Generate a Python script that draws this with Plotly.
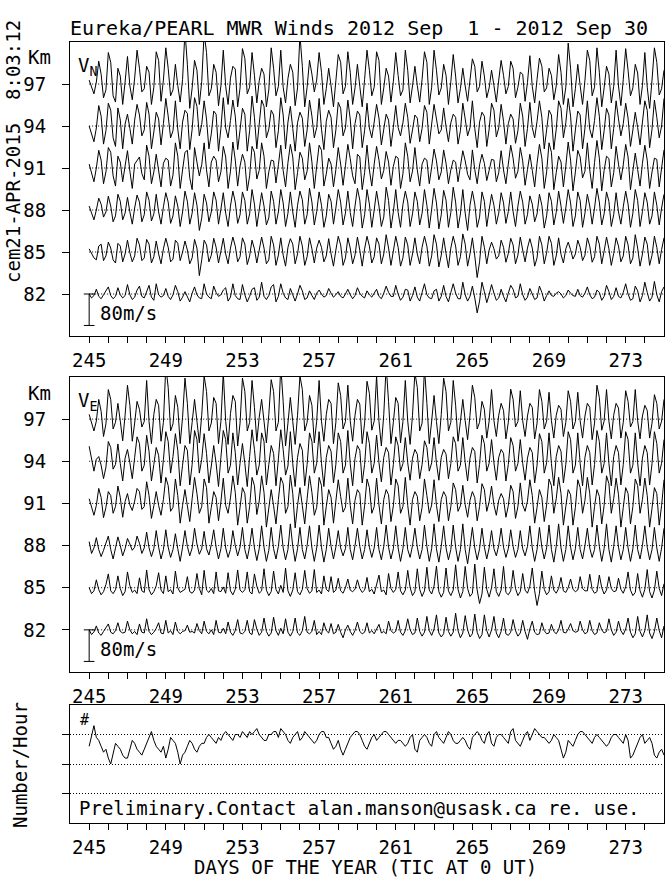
import numpy as np
import plotly.graph_objects as go

# ---------------- data (3-hourly samples, m/s) ----------------
HEIGHTS = [82, 85, 88, 91, 94, 97]
DAY_START = 245.0
STEP = 0.125
TICK_DAYS = list(range(245, 275))
LABEL_DAYS = [245, 249, 253, 257, 261, 265, 269, 273]
SCALE_MS = 80.0
MS_PER_KM = 35.6

VN_82 = [0,-10,-4,12,-6,-12,-2,8, 18,-4,-12,-6,16,-2,-10,-4, 24,-2,-14,-8,10,20,-6,-10,
         4,22,-8,-16,26,-2,-8,-4, 14,-6,-14,-2,22,6,-18,-8, 6,-8,-20,2,18,-2,-10,-12,
         26,0,-8,-12,20,4,-6,-2, 10,16,-18,-8,26,-4,-12,-14, 24,-2,-20,-6,12,16,-16,-8,
         30,-6,-14,-4,18,24,-20,-6, 26,2,-10,-14,14,-2,-18,0, 22,8,-14,-10,8,-4,-14,2,
         10,0,-8,-4,14,2,-8,-2, 6,-6,-10,0,12,-2,-12,-4, 16,2,-6,-10,8,-2,-8,2,
         12,-6,-12,2,20,4,-6,-6, 22,0,-16,-8,12,10,-18,-4, 18,-8,-18,4,26,-2,-10,-12,
         8,12,-18,-6,22,-6,-20,4, 26,2,-12,-12,30,-2,-18,-6, 20,-10,-48,-18,30,6,-22,-2,
         24,2,-16,-10,12,-6,-20,2, 22,12,-10,-6,26,-2,-16,-8, 14,0,-14,-10,20,4,-18,-4,
         8,-4,-6,2,6,0,-10,-4, 10,2,-4,-6,12,-4,-8,2, 18,-2,-12,-8,10,4,-16,-6,
         22,6,-14,-6,16,-6,-10,4, 26,0,-16,-12,20,8,-20,-4, 30,4,-18,-8,32,-2,-20,6, 18]
VN_85 = [8,-5,-15,-20,15,20,-22,-10, 25,10,-20,-28,22,15,-25,-5, 30,-2,-25,-10,35,18,-22,-15,
         32,20,-28,-12,28,-5,-30,8, 35,12,-25,-18,30,22,-22,0, 28,5,-30,-15,32,10,-60,-20,
         30,18,-25,-8,35,12,-28,2, 35,-5,-30,10,38,15,-25,-12, 36,20,-32,-10,30,8,-28,5,
         38,10,-30,-20,40,18,-34,-8, 36,-8,-36,12,34,20,-30,-5, 40,15,-34,-12,36,8,-28,10,
         30,12,-25,-10,34,-5,-36,5, 40,18,-34,-15,36,10,-30,-8, 38,5,-36,8,40,15,-28,-12,
         36,20,-30,-5,44,10,-34,2, 40,12,-36,-15,38,18,-34,-5, 36,-5,-30,12,40,15,-36,-10,
         44,20,-38,-8,36,-4,-40,10, 40,15,-34,-12,46,20,-36,-5, 36,-10,-65,-25,40,12,-30,5,
         25,8,-18,-10,30,12,-26,-4, 35,18,-30,-8,38,5,-25,10, 34,10,-36,-15,40,18,-30,-2,
         40,22,-34,-10,36,-6,-28,8, 25,6,-18,-5,30,12,-22,-8, 36,15,-26,-12,40,20,-30,2,
         38,8,-34,-4,36,15,-25,-10, 40,18,-30,-15,44,10,-36,-5, 38,20,-34,-8,40,12,-30,6, 36]
VN_88 = [10,-10,-25,0,30,15,-18,-5, 35,10,-30,-15,40,22,-25,-8, 32,-5,-36,5,38,20,-30,-12,
         46,25,-28,-10,40,-5,-36,8, 44,20,-34,-15,36,10,-42,-5, 48,22,-36,-8,44,12,-52,-20,
         40,18,-30,-5,46,25,-36,2, 44,-8,-42,10,48,20,-34,-12, 46,24,-36,-10,52,15,-42,0,
         44,10,-38,-20,48,22,-36,-5, 52,18,-42,-8,46,-5,-44,12, 48,26,-36,-12,55,20,-38,-4,
         46,12,-44,-15,40,22,-36,5, 52,20,-38,-8,48,-6,-42,10, 55,25,-46,-12,52,15,-44,0,
         48,10,-42,-18,58,24,-46,-5, 52,-6,-44,14,48,20,-42,-10, 46,22,-38,-8,52,12,-46,2,
         55,18,-48,-12,50,25,-44,-6, 58,20,-46,-10,52,-8,-52,12, 48,15,-44,-18,46,22,-42,0,
         40,12,-36,-8,44,18,-34,-4, 46,-4,-42,10,48,20,-36,-12, 36,15,-30,-10,40,12,-46,-15,
         44,22,-38,-6,48,10,-34,5, 52,18,-42,-15,46,24,-44,-8, 40,10,-36,5,55,20,-38,-10,
         46,22,-42,-12,44,-5,-36,8, 48,15,-44,-8,52,24,-42,-4, 44,20,-36,-15,46,12,-38,5, 40]
VN_91 = [10,-15,-35,0,45,20,-40,-10, 52,40,-20,-46,30,15,-35,5, 44,-8,-52,10,20,28,-14,-30,
         58,30,-40,-10,35,-5,-48,12, 25,20,-46,-18,64,30,-52,-5, 40,45,-25,-55,52,15,-20,8,
         64,-5,-48,15,30,20,-35,-10, 55,28,-52,-8,66,20,-46,5, 35,15,-58,-20,55,40,-28,-6,
         64,30,-52,-10,20,18,-38,8, 58,-6,-48,14,60,28,-55,-12, 40,25,-30,-8,64,15,-52,5,
         58,45,-46,-15,25,10,-48,-4, 52,10,-44,6,60,24,-20,-40, 35,28,-55,-12,58,-5,-46,10,
         55,20,-28,-6,42,15,-44,4, 30,25,-52,-15,64,30,-35,-8, 52,-5,-46,10,25,20,-40,2,
         48,18,-30,-10,46,12,-40,-5, 20,15,-35,4,44,18,-16,-30, 46,-4,-40,8,35,12,-32,-6,
         22,20,-35,-12,44,-5,-40,10, 58,25,-26,-8,52,18,-44,-4, 35,-6,-48,12,60,25,-52,-10,
         64,40,-55,-12,30,15,-48,5, 66,20,-58,-10,45,28,-25,-8, 64,-5,-52,14,70,25,-58,-6,
         30,24,-48,-12,55,10,-30,8, 60,28,-55,-8,38,-4,-46,12, 58,20,-52,-10,25,22,-48,0, 46]
VN_94 = [0,-20,-40,-5,52,25,-46,-12, 58,40,-30,-52,46,15,-58,5, 30,-6,-46,15,55,28,-25,-10,
         60,30,-58,-15,35,18,-48,6, 70,25,-30,-12,64,-8,-58,10, 40,32,-60,-8,72,50,-25,4,
         64,18,-58,-20,38,30,-64,-6, 72,-5,-30,14,66,25,-60,-10, 45,30,-64,-12,76,22,-58,5,
         66,50,-30,-8,40,28,-55,-12, 72,28,-58,10,50,-6,-64,8, 35,20,-52,-10,66,25,-30,-4,
         70,-8,-60,12,40,22,-55,-10, 60,45,-25,-5,66,18,-58,6, 38,28,-55,-12,58,-5,-30,10,
         55,20,-48,-8,30,15,-52,-4, 52,-4,-25,8,58,22,-44,-10, 28,20,-40,-6,52,35,-46,5,
         55,18,-20,-10,46,-2,-40,8, 30,22,-46,-12,58,18,-25,-4, 64,-6,-55,10,35,25,-52,-8,
         58,40,-28,-5,55,12,-46,6, 30,18,-44,-12,58,25,-52,-6, 60,-4,-30,12,64,22,-58,-10,
         40,28,-60,-8,64,45,-30,8, 70,25,-64,-10,38,28,-58,-5, 64,-8,-30,14,72,25,-60,-12,
         45,28,-58,-6,64,18,-25,6, 58,20,-52,-10,35,-4,-48,10, 64,40,-55,-8,66,22,-30,0, 70]
VN_97 = [10,-8,-25,5,58,25,-35,-15, 80,55,-30,-46,40,20,-52,5, 70,-5,-40,15,86,40,-20,-12,
         45,30,-52,-8,82,60,-44,10, 92,40,-30,-15,50,-4,-46,12, 135,50,-62,-10,60,35,-52,6,
         130,80,-30,-12,50,30,-55,-5, 86,-6,-52,15,45,38,-58,-10, 90,65,-25,-8,80,22,-48,8,
         40,25,-58,-15,92,40,-30,-6, 86,-8,-48,14,50,30,-55,-10, 125,45,-58,-8,60,25,-20,10,
         80,30,-52,-12,40,-5,-58,8, 75,55,-25,-6,82,30,-52,-10, 50,-6,-58,12,86,35,-30,-8,
         82,60,-52,-10,40,20,-46,6, 80,22,-30,-15,86,35,-48,-5, 45,-4,-46,12,82,55,-52,-8,
         86,35,-28,-10,50,22,-52,6, 75,20,-48,-12,40,-5,-44,10, 64,45,-20,-6,58,20,-35,-10,
         35,-4,-46,10,60,22,-25,-6, 58,40,-35,-8,30,25,-44,4, 72,-6,-48,12,66,45,-20,-10,
         40,22,-40,-5,75,30,-52,-8, 104,40,-58,-12,50,-4,-52,10, 86,60,-30,-8,92,30,-58,-10,
         45,25,-48,-6,86,-5,-55,12, 90,35,-30,-10,50,28,-52,-4, 80,-8,-62,10,92,55,-28,-12, 35]

VE_82 = [0,-12,-5,10,-8,-14,-4,6, 15,-6,-10,-2,18,-4,-8,-6, 22,0,-10,-4,-12,15,-6,-8,
         28,-4,-12,-6,4,18,-8,-10, 24,-8,-2,-12,20,-4,-10,-4, -2,12,-6,-4,-8,16,-2,-10,
         22,-4,-10,0,-12,24,-6,-8, 4,-10,20,-6,-14,-2,26,-8, -10,-4,24,-8,-12,26,2,-14,
         -6,30,-4,-16,-8,32,-2,-14, 4,-10,28,-6,-16,-4,30,-8, -14,-2,34,-6,-10,-4,24,-12,
         -4,-12,18,-2,-8,16,-10,-6, 14,-6,-20,0,12,-4,-14,-2, 20,-4,-10,-6,18,-8,-2,-10,
         4,14,-8,-4,-10,22,-2,-8, -4,24,-6,-14,-2,28,0,-12, -8,30,-4,-16,-6,34,-2,-14,
         2,38,-8,-18,-10,32,-4,-16, -6,42,-2,-20,-8,36,0,-18, -10,40,-6,-22,-12,38,-2,-18,
         0,34,-8,-20,-4,30,-10,-14, -6,26,-2,-16,-8,24,-4,-24, 2,22,-6,-12,-10,18,-2,-10,
         -8,14,-4,-10,0,24,-6,-8, 2,16,-2,-6,-4,22,0,-10, -6,24,-2,-12,-8,18,0,-8,
         -4,28,0,-14,-6,22,-2,-12, 2,30,-6,-20,-10,34,-4,-18, -2,38,-8,-22,-4,30,-2,-20, 10]
VE_85 = [0,-15,-8,20,-5,-18,-10,8, 35,-8,-15,-5,30,-2,-20,-10, 40,5,-12,-6,-15,25,-8,-12,
         45,-5,-18,-10,5,38,-6,-15, 30,-10,-5,-16,42,0,-12,-8, -4,28,-10,-14,-6,36,-2,-18,
         44,-6,-12,-2,-15,40,-8,-10, 2,-14,38,-8,-18,-4,45,-6, -12,-5,40,-10,-16,35,4,-14,
         -8,48,-6,-20,-10,42,-4,-16, 6,-12,50,-8,-22,-6,38,-10, -18,-4,44,-2,-14,-8,46,-12,
         -6,-16,30,-4,-10,28,-12,-6, 24,-8,-14,0,22,-6,-10,-4, 20,-2,-12,-6,26,-10,-4,-16,
         8,32,-10,-6,-18,36,-2,-12, -4,40,-8,-18,-6,44,0,-20, -10,48,-4,-22,-8,52,-6,-16,
         4,55,-10,-24,-12,50,-8,-20, -6,58,-4,-26,-10,54,-2,-22, -14,60,-6,-40,-16,52,-4,-24,
         0,48,-10,-22,-6,54,-12,-18, -8,44,-2,-20,-10,36,-6,-14, 4,50,-8,-45,-14,42,-4,-18,
         -10,30,-6,-14,-2,26,-8,-12, 0,22,-4,-10,-6,28,-2,-8, -8,34,-4,-14,-10,32,0,-16,
         -6,28,-2,-10,-8,24,-4,-14, 2,40,-6,-20,-12,36,-8,-24, -4,46,-10,-26,-6,42,-2,-20, 10]
VE_88 = [10,-20,-6,20,-10,-28,-12,6, 24,-10,-34,-6,22,0,-26,-8, 18,4,-12,-4,24,6,-20,-6,
         34,-6,-28,-8,38,-4,-34,-10, 40,-4,-30,-10,30,-8,-40,-4, 38,-2,-26,-6,44,4,-22,-8,
         36,-8,-24,2,40,-4,-34,-8, 44,-6,-30,-10,38,0,-26,-4, 46,-10,-34,-2,44,-6,-38,-8,
         50,-4,-40,-12,46,-8,-34,-2, 52,-6,-36,-10,55,-2,-40,-8, 46,-10,-34,0,50,-6,-40,-6,
         52,-4,-42,-10,44,-2,-34,-4, 38,-6,-26,-8,46,-10,-36,0, 44,-2,-34,-10,40,-4,-30,-6,
         46,-10,-36,-2,52,-4,-34,-8, 50,-6,-40,-8,46,-10,-30,0, 44,-4,-34,-10,52,-2,-40,-8,
         55,-8,-42,-2,50,-6,-36,-10, 52,-4,-40,-10,55,-10,-46,-2, 46,-6,-36,-8,44,-4,-34,-6,
         38,-8,-26,0,44,-4,-30,-8, 40,-2,-30,-10,38,-8,-26,-2, 50,-6,-40,-10,46,-4,-34,-6,
         52,-10,-42,-2,55,-6,-40,-10, 50,-4,-36,-8,46,-10,-34,0, 44,-6,-30,-10,52,-2,-40,-8,
         55,-10,-42,-2,50,-4,-36,-10, 46,-6,-40,-8,52,-10,-34,0, 50,-4,-36,-10,46,-6,-40,-6, 44]
VE_91 = [12,-10,-30,-5,38,15,-36,-10, 30,20,-25,-8,44,15,-35,5, 25,-4,-18,6,38,30,-15,-8,
         55,20,-38,-6,30,-5,-30,10, 66,45,-20,-10,62,20,-50,-5, 35,-6,-46,12,66,25,-25,-8,
         62,40,-50,-10,30,15,-44,4, 64,-5,-25,14,70,28,-55,-10, 40,25,-50,-8,66,45,-28,6,
         70,28,-60,-12,35,-6,-52,10, 66,50,-25,-8,72,25,-62,-5, 40,-6,-52,12,70,28,-30,-10,
         66,45,-55,-8,35,15,-50,6, 60,18,-22,-10,64,-5,-52,8, 35,25,-55,-6,62,40,-25,-8,
         64,-4,-52,10,35,22,-46,-6, 62,45,-25,-8,66,-5,-55,10, 30,18,-44,-10,62,20,-25,-4,
         60,-5,-46,10,30,18,-44,-8, 52,35,-20,-6,46,-3,-35,8, 30,15,-44,-8,50,35,-20,4,
         44,-4,-30,8,25,12,-35,-6, 46,30,-38,-8,52,-4,-20,6, 60,20,-50,-10,35,15,-46,-4,
         62,45,-25,12,66,25,-55,-8, 35,22,-55,-10,60,40,-25,8, 66,25,-60,-8,35,18,-52,-5,
         70,50,-25,12,64,22,-60,-10, 40,25,-52,-8,62,45,-25,10, 64,20,-60,-12,40,25,-55,-5, 60]
VE_94 = [38,10,-25,5,12,-10,-44,-15, 50,35,-20,-8,44,-6,-50,8, 30,-4,-44,10,62,45,-25,-10,
         66,25,-50,-8,35,15,-55,4, 75,50,-30,12,70,28,-62,-10, 40,28,-60,-8,78,55,-30,5,
         70,20,-55,-12,40,-5,-64,10, 78,55,-30,-10,72,22,-60,-5, 45,-6,-64,12,80,30,-35,-10,
         72,50,-60,-8,40,20,-62,6, 80,30,-35,-12,75,-6,-64,10, 45,28,-62,-8,72,50,-30,-5,
         75,-5,-64,10,40,25,-55,-8, 72,50,-30,-10,78,-6,-62,8, 40,28,-55,-8,75,45,-30,-5,
         66,-4,-52,10,35,22,-60,-8, 62,40,-25,-6,60,-4,-48,8, 30,18,-44,-8,52,35,-25,-4,
         60,-5,-48,10,30,18,-44,-6, 62,45,-25,-10,60,-3,-50,8, 35,25,-55,-8,66,45,-25,-5,
         55,-4,-48,10,30,20,-50,-8, 60,40,-25,-6,55,-5,-48,8, 35,22,-55,-10,70,50,-30,-4,
         72,-6,-62,12,40,25,-55,-8, 75,55,-30,-10,72,-5,-62,10, 40,22,-60,-8,78,50,-30,-6,
         72,-5,-62,12,40,22,-60,-8, 75,55,-30,-10,72,-4,-62,8, 40,22,-60,-6,75,45,-30,-5, 55]
VE_97 = [12,-10,-30,-5,50,20,-44,-12, 75,50,-25,-8,40,-5,-55,10, 86,35,-56,-10,45,25,-20,-6,
         98,-6,-62,12,50,35,-56,-8, 135,80,-30,-12,60,30,-62,5, 104,40,-62,-8,50,-5,-60,10,
         110,70,-30,-10,55,40,-62,-6, 118,-6,-64,14,60,45,-68,-10, 104,70,-30,-8,98,30,-56,5,
         50,-5,-60,12,100,70,-30,-8, 135,45,-68,-10,55,-6,-64,10, 110,75,-30,-8,60,35,-60,-5,
         98,-5,-56,12,50,40,-62,-8, 92,60,-25,-6,86,-4,-56,10, 50,38,-62,-10,96,65,-28,-5,
         110,-6,-68,12,135,45,-62,-8, 55,40,-60,-6,98,-5,-64,10, 118,80,-30,-10,130,40,-62,-5,
         60,-6,-62,12,104,70,-30,-8, 98,35,-56,-6,50,-4,-52,10, 86,55,-25,-8,45,25,-48,-5,
         75,-4,-44,10,40,22,-50,-8, 76,50,-20,-6,72,-4,-44,8, 40,30,-50,-10,75,45,-25,-5,
         68,-4,-48,10,35,25,-44,-8, 72,45,-25,-6,68,-4,-48,8, 40,30,-52,-10,86,55,-28,-5,
         75,-5,-50,10,40,28,-48,-8, 72,45,-20,-6,75,-4,-50,8, 35,22,-48,-10,62,40,-25,-5, 50]

COUNT = [26,30,33,29,28,26,24,25, 22,20,24,27,26,25,23,22, 22,25,28,27,25,24,23,25,
         27,29,31,28,26,25,24,26, 22,25,29,28,27,24,20,23, 24,26,28,27,25,24,26,27,
         27,29,30,29,28,27,29,28, 30,31,30,29,28,30,30,29, 31,30,29,31,30,31,32,30,
         29,28,28,30,30,31,31,29, 32,31,30,28,27,29,30,31, 28,29,31,30,29,28,27,28,
         30,31,31,29,29,27,25,26, 28,25,23,25,27,29,30,31, 31,30,28,26,25,27,29,30,
         28,29,30,31,31,30,29,28, 27,28,28,27,26,27,29,30, 25,24,28,29,30,29,27,26,
         30,31,29,28,27,29,31,30, 28,27,27,28,29,28,26,25, 29,30,31,30,28,27,30,31,
         27,26,29,30,30,29,28,27, 31,32,28,27,26,28,30,31, 28,30,32,31,30,29,29,28,
         27,28,30,29,28,25,22,24, 28,27,26,28,30,31,31,30, 29,28,27,29,30,29,28,27,
         26,27,29,30,30,29,28,27, 30,28,22,23,25,27,29,30, 27,28,29,27,23,22,24,25, 23]
COUNT_GRID = [10, 20, 30]

VN = [VN_82, VN_85, VN_88, VN_91, VN_94, VN_97]
VE = [VE_82, VE_85, VE_88, VE_91, VE_94, VE_97]

# ---------------- figure ----------------
W, H = 672, 877
FONT = "DejaVu Sans Mono"
FS = 19
DOT = "1px,2px"

def px_x(x):
    return x / W

def px_y(y):
    return 1 - y / H

X_DOM = [px_x(70), px_x(664)]
DOMS = [[px_y(336), px_y(42)], [px_y(672), px_y(377)], [px_y(823), px_y(705)]]

fig = go.Figure()

for panel, series in ((1, VN), (2, VE)):
    xa = "x" if panel == 1 else "x2"
    ya = "y" if panel == 1 else "y2"
    for h, vals in zip(HEIGHTS, series):
        days = DAY_START + STEP * np.arange(len(vals))
        yv = h + np.array(vals, dtype=float) / MS_PER_KM
        fig.add_trace(go.Scatter(x=days, y=yv, mode="lines",
                                 line=dict(color="black", width=1),
                                 xaxis=xa, yaxis=ya, showlegend=False, hoverinfo="skip"))

cdays = DAY_START + STEP * np.arange(len(COUNT))
fig.add_trace(go.Scatter(x=cdays, y=COUNT, mode="lines", line=dict(color="black", width=1),
                         xaxis="x3", yaxis="y3", showlegend=False, hoverinfo="skip"))

ticktext = [str(d) if d in LABEL_DAYS else "" for d in TICK_DAYS]

def xaxis(anchor):
    return dict(domain=X_DOM, anchor=anchor, range=[244, 275], showline=True, mirror=True,
                linecolor="black", linewidth=1, ticks="outside", ticklen=6, tickwidth=1,
                tickcolor="black", tickvals=TICK_DAYS, ticktext=ticktext, showgrid=False,
                zeroline=False, automargin=False,
                tickfont=dict(family=FONT, size=FS, color="black"), ticklabelstandoff=1)

def yaxis_wind(dom, anchor):
    return dict(domain=dom, anchor=anchor, range=[79, 100], showline=True, mirror=True,
                linecolor="black", linewidth=1, ticks="outside", ticklen=7, tickwidth=1,
                tickcolor="black", tickvals=HEIGHTS, ticktext=[str(h) for h in HEIGHTS],
                showgrid=False, zeroline=False, automargin=False,
                tickfont=dict(family=FONT, size=FS, color="black"), ticklabelstandoff=12)

fig.update_layout(
    width=W, height=H, autosize=False,
    margin=dict(l=0, r=0, t=0, b=0, pad=0),
    paper_bgcolor="white", plot_bgcolor="white",
    showlegend=False,
    xaxis=xaxis("y"), xaxis2=xaxis("y2"), xaxis3=xaxis("y3"),
    yaxis=yaxis_wind(DOMS[0], "x"), yaxis2=yaxis_wind(DOMS[1], "x2"),
    yaxis3=dict(domain=DOMS[2], anchor="x3", range=[0, 40], showline=True, mirror=True,
                linecolor="black", linewidth=1, ticks="outside", ticklen=7, tickwidth=1,
                tickcolor="black", tickvals=COUNT_GRID, showticklabels=False, automargin=False,
                showgrid=True, gridcolor="black", gridwidth=1, griddash=DOT, zeroline=False),
)

shapes = []
for xr, yr in (("x", "y"), ("x2", "y2")):
    for h in HEIGHTS:
        shapes.append(dict(type="line", xref=xr, yref=yr, x0=245, x1=275, y0=h, y1=h,
                           line=dict(color="black", width=1, dash=DOT)))
    bar_bottom = HEIGHTS[0] - SCALE_MS / MS_PER_KM
    shapes.append(dict(type="line", xref=xr, yref=yr, x0=245, x1=245, y0=HEIGHTS[0], y1=bar_bottom,
                       line=dict(color="black", width=1)))
    for yy in (HEIGHTS[0], bar_bottom):
        shapes.append(dict(type="line", xref=xr, yref=yr, x0=244.72, x1=245.28, y0=yy, y1=yy,
                           line=dict(color="black", width=1)))
fig.update_layout(shapes=shapes)

def ann(text, x, y, xanchor="left", yanchor="middle", size=FS, angle=0):
    return dict(text=text, x=px_x(x), y=px_y(y), xref="paper", yref="paper", showarrow=False,
                xanchor=xanchor, yanchor=yanchor, textangle=angle,
                font=dict(family=FONT, size=size, color="black"))

annotations = [
    ann("Eureka/PEARL MWR Winds 2012 Sep  1 - 2012 Sep 30", 68, 28, size=20),
    ann("cem21-APR-2015  8:03:12", 13, 152, xanchor="center", angle=-90),
    ann("Km", 39, 57, xanchor="center"),
    ann("Km", 39, 393, xanchor="center"),
    ann("V<sub>N</sub>", 76, 66),
    ann("V<sub>E</sub>", 76, 401),
    ann("80m/s", 98, 313),
    ann("80m/s", 98, 649),
    ann("#", 78, 720, size=15),
    ann("Number/Hour", 20, 765, xanchor="center", angle=-90),
    ann("Preliminary.Contact alan.manson@usask.ca re. use.", 77, 808),
    ann("DAYS OF THE YEAR (TIC AT 0 UT)", 365, 867, xanchor="center"),
]
fig.update_layout(annotations=annotations)

fig.write_html("out.html", config={"displayModeBar": False},
               post_script="document.body.style.margin='0px';document.body.style.padding='0px';")
